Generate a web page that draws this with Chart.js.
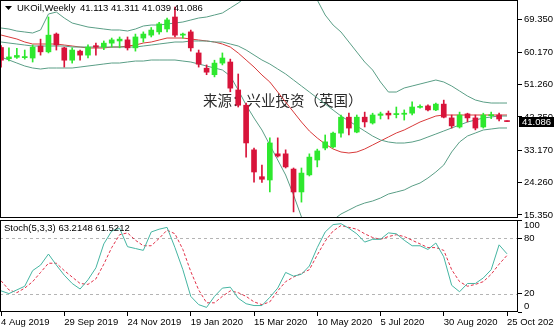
<!DOCTYPE html>
<html><head><meta charset="utf-8">
<script src="https://cdn.jsdelivr.net/npm/chart.js@4"></script>
<style>
html,body{margin:0;padding:0;background:#fff;width:554px;height:329px;overflow:hidden}
canvas{position:absolute;left:0}
#c1{top:0}
#c2{top:211px}
</style></head><body>
<canvas id="c1" width="554" height="218"></canvas>
<canvas id="c2" width="554" height="118"></canvas>
<script>
// ---- data (weekly candles, 4 Aug 2019 .. 25 Oct 2020) ----
const openP=[61.5,58.4,58.8,58.7,58.6,61.9,60.3,65.2,61.4,58.0,60.5,59.4,62.0,61.6,62.7,63.3,63.6,61.4,64.1,64.9,65.8,66.6,69.9,64.9,65.8,60.0,55.8,54.0,57.2,57.5,49.8,45.6,33.3,25.9,25.0,32.2,32.2,28.0,21.7,26.4,30.5,33.8,34.1,37.9,42.3,38.2,42.3,40.7,42.8,43.4,43.0,43.1,43.4,45.0,45.4,44.3,45.9,42.1,39.6,43.2,42.1,39.6,42.7,42.9,41.113];
const highP=[62.0,61.4,61.3,60.8,62.2,63.8,69.9,65.5,61.6,61.4,60.8,62.2,62.7,63.3,64.1,64.4,64.4,65.2,65.8,67.0,68.4,69.6,72.6,65.5,66.3,60.8,56.7,58.0,60.0,58.3,54.2,46.2,33.8,29.1,36.6,36.6,33.3,28.3,28.3,32.2,33.5,37.4,38.2,42.9,43.4,42.9,43.7,43.4,43.7,44.0,45.1,44.3,46.5,45.7,45.7,46.2,47.0,42.9,43.7,43.4,42.9,43.4,43.7,43.4,41.311];
const lowP=[56.1,57.8,58.5,58.3,57.5,59.4,60.0,60.8,56.1,57.2,58.0,58.6,59.4,60.9,61.6,61.4,60.8,60.5,63.0,64.4,65.2,65.8,64.4,64.1,60.5,56.1,54.0,53.4,56.7,49.3,45.1,31.3,24.4,24.3,21.7,31.3,28.3,16.2,18.9,26.1,28.6,33.3,33.8,36.8,37.4,38.0,39.6,40.4,41.8,41.8,42.1,41.5,42.9,44.8,44.0,44.1,42.1,39.3,39.3,41.0,38.8,39.3,41.9,41.3,41.039];
const closeP=[58.0,58.9,59.3,59.0,61.6,60.3,64.9,62.2,58.0,60.8,59.4,61.6,61.6,62.7,63.6,63.8,61.4,64.4,65.2,66.3,68.0,69.1,64.9,65.2,61.4,56.9,54.7,57.2,58.6,50.3,45.6,35.2,27.2,25.2,35.2,31.6,28.6,21.7,26.9,31.3,33.0,35.5,37.9,42.3,39.3,42.3,41.0,42.9,43.2,42.9,43.3,43.4,45.1,45.3,44.3,45.9,42.3,39.9,42.9,42.1,39.3,42.9,43.0,41.8,41.086];
const bbUpper=[66.87,66.59,66.04,65.77,65.49,66.32,70.72,71.27,69.62,68.24,67.69,67.14,66.87,66.59,66.32,66.32,66.04,66.59,67.42,67.69,67.69,67.97,68.24,68.52,69.07,69.62,69.9,70.45,71.0,72.38,73.75,75.4,77.5,79.0,80.5,81.5,82.0,81.5,80.0,77.5,74.58,70.45,67.69,65.77,63.01,60.25,57.5,55.3,51.99,49.23,49.23,50.34,50.89,51.44,51.99,52.54,51.99,50.89,49.51,48.13,47.03,46.48,46.2,46.2,46.2];
const bbMiddle=[63.01,62.73,62.46,62.18,61.91,61.91,61.91,61.91,61.91,61.63,61.63,61.63,61.63,61.63,61.63,61.63,61.63,61.63,61.91,62.18,62.46,62.73,63.01,63.01,63.29,63.29,63.29,63.01,63.01,62.46,61.91,60.81,59.43,58.05,56.95,55.57,54.2,52.54,50.89,49.23,47.58,45.93,44.27,42.62,41.25,39.87,38.49,37.11,36.01,35.46,35.18,35.18,35.46,36.01,36.84,37.66,38.49,39.32,40.14,40.97,41.52,42.07,42.35,42.62,42.62];
const bbLower=[58.88,58.05,57.22,56.4,55.85,55.57,55.85,55.85,55.85,55.85,56.12,56.4,56.67,56.95,57.22,57.22,57.5,57.77,57.77,58.05,58.05,58.05,58.05,57.77,57.5,56.95,56.4,55.85,55.3,53.64,49.79,45.65,42.07,38.77,34.63,30.5,26.37,20.86,14.8,11.22,9.84,11.77,13.97,15.62,16.72,17.83,18.65,19.2,20.03,21.13,21.68,22.24,23.34,24.16,25.54,27.2,29.12,32.71,35.46,37.11,37.94,38.77,39.04,39.32,39.32];
const maRed=[64.94,64.39,63.84,63.01,62.46,62.46,62.46,62.46,62.18,61.91,61.63,61.36,61.36,61.36,61.63,61.63,61.91,62.18,62.73,63.01,63.56,64.11,64.11,64.11,63.84,63.56,63.29,63.01,62.46,61.63,59.98,58.05,56.12,53.92,51.99,49.23,46.48,43.72,40.97,38.49,36.56,34.91,33.53,32.71,32.43,32.71,33.53,34.63,35.74,36.84,37.94,38.77,39.87,40.97,41.8,42.62,42.9,42.9,42.9,42.9,42.9,42.9,42.9,42.9,42.9];
const stochMain=[23,20,24,28,45,51,63,51,40,31,25,35,48,74,88,91,71,69,67,87,90,92,70,46,17,8,5,17,26,27,15,9,7,7,16,26,43,39,41,50,70,87,95,96,91,85,76,79,79,86,85,78,72,72,68,75,60,29,22,31,31,37,46,73,63.2148];
const stochSignal=[34,24,21,26,33,43,53,53,45,38,31,30,36,52,70,84,86,78,72,72,80,89,85,68,44,24,10,10,17,23,21,17,11,8,11,23,33,38,42,46,62,77,88,94,92,90,85,81,79,82,84,82,78,74,70,70,67,46,33,28,30,33,41,52,61.5212];
const priceTicks=[69.35,60.17,51.26,42.35,33.17,24.26,15.35];
const stochTicks=[100,80,20,0];
const stochLevels=[80,20];
const dateTickIdx=[0,8,16,24,32,40,48,56,64];
const dateTickLabels=['4 Aug 2019','29 Sep 2019','24 Nov 2019','19 Jan 2020','15 Mar 2020','10 May 2020','5 Jul 2020','30 Aug 2020','25 Oct 2020'];
const titleSymbol='UKOil,Weekly';
const titleValues='41.113 41.311 41.039 41.086';
const stochTitle='Stoch(5,3,3) 63.2148 61.5212';
const watermark='来源：兴业投资（英国）';

// ---- styling / layout ----
const FONT='"Liberation Sans", Arial, sans-serif';
const UP='#2ee82e', DN='#d8143a', BAND='#5a9e86', MA='#d83a3a';
const X_MIN=-0.13, X_MAX=65.39, Y_MIN=14.523, Y_MAX=74.585;
const N=closeP.length;
const idx=Array.from({length:N},(_,i)=>i);
const cColor=idx.map(i=>closeP[i]>=openP[i]?UP:DN);

function lineDS(arr,color,dash){
  return {type:'line',data:arr.map((v,i)=>({x:i,y:v})),borderColor:color,borderWidth:1,
    borderDash:dash||[],pointRadius:0,tension:0,fill:false,order:3};
}
const framePlugin={id:'frame',afterDraw(chart){
  const a=chart.chartArea,ctx=chart.ctx;ctx.save();ctx.strokeStyle='#000';ctx.lineWidth=1;
  ctx.strokeRect(Math.round(a.left)+0.5,Math.round(a.top)+0.5,Math.round(a.right-a.left)-1,Math.round(a.bottom-a.top)-1);
  ctx.restore();}};

const mainDeco={id:'mainDeco',
  beforeDatasetsDraw(chart){
    const ctx=chart.ctx;ctx.save();
    ctx.font='14.5px "Noto Sans CJK SC", sans-serif';ctx.fillStyle='#2a2a2a';ctx.textBaseline='middle';
    ctx.fillText(watermark,203,100);ctx.restore();},
  afterDraw(chart){
    const ctx=chart.ctx,ys=chart.scales.y,a=chart.chartArea;ctx.save();
    ctx.fillStyle='#000';ctx.beginPath();ctx.moveTo(5,6);ctx.lineTo(12,6);ctx.lineTo(8.5,10);ctx.closePath();ctx.fill();
    ctx.font='9.5px '+FONT;ctx.textBaseline='middle';ctx.fillText(titleSymbol,17,8);ctx.fillText(titleValues,80,8);
    const y=Math.round(ys.getPixelForValue(closeP[N-1]));
    ctx.fillStyle='#000';ctx.fillRect(Math.round(a.right)+1,y-5,36,10);
    ctx.fillStyle='#fff';ctx.textBaseline='middle';ctx.fillText(closeP[N-1].toFixed(3),Math.round(a.right)+4,y);
    ctx.restore();}};

new Chart(document.getElementById('c1'),{
  type:'bar',
  data:{datasets:[
    {type:'bar',data:idx.map(i=>({x:i,y:[lowP[i],highP[i]]})),backgroundColor:cColor,barThickness:1,grouped:false,order:2},
    {type:'bar',data:idx.map(i=>({x:i,y:[openP[i],closeP[i]]})),backgroundColor:cColor,barThickness:5,minBarLength:1,grouped:false,order:1},
    lineDS(bbUpper,BAND),lineDS(bbMiddle,BAND),lineDS(bbLower,BAND),lineDS(maRed,MA)
  ]},
  options:{responsive:false,animation:false,devicePixelRatio:1,events:[],
    layout:{padding:0},
    plugins:{legend:{display:false},tooltip:{enabled:false}},
    scales:{
      x:{type:'linear',min:X_MIN,max:X_MAX,offset:false,display:false},
      y:{position:'right',min:Y_MIN,max:Y_MAX,
        afterBuildTicks:s=>{s.ticks=priceTicks.map(v=>({value:v}));},
        afterFit:s=>{s.width=36;s.paddingTop=0;s.paddingBottom=0;},
        ticks:{autoSkip:false,callback:v=>Number(v).toFixed(3),color:'#000',padding:2,crossAlign:'near',font:{family:FONT,size:9.5}},
        grid:{drawOnChartArea:false,drawTicks:true,tickLength:4,color:'#000'},
        border:{display:false}}
    }},
  plugins:[framePlugin,mainDeco]
});

const stochDeco={id:'stochDeco',
  beforeDatasetsDraw(chart){
    const ctx=chart.ctx,ys=chart.scales.y,a=chart.chartArea;ctx.save();
    ctx.strokeStyle='#b4b4b4';ctx.lineWidth=1;ctx.setLineDash([3,3]);
    stochLevels.forEach(v=>{const y=Math.round(ys.getPixelForValue(v))+0.5;ctx.beginPath();ctx.moveTo(a.left,y);ctx.lineTo(a.right,y);ctx.stroke();});
    ctx.restore();},
  afterDraw(chart){
    const ctx=chart.ctx,ys=chart.scales.y,a=chart.chartArea;ctx.save();
    ctx.fillStyle='#000';ctx.font='9.5px '+FONT;ctx.textBaseline='middle';
    ctx.fillText(stochTitle,4,a.top+8);
    stochTicks.forEach(v=>{let y=ys.getPixelForValue(v);y=Math.min(Math.max(y,a.top+5),a.bottom-6);ctx.fillText(String(v),a.right+6,y);});
    ctx.restore();}};

new Chart(document.getElementById('c2'),{
  type:'line',
  data:{datasets:[
    {data:stochMain.map((v,i)=>({x:i,y:v})),borderColor:'#45b5a2',borderWidth:1,pointRadius:0,tension:0,fill:false},
    {data:stochSignal.map((v,i)=>({x:i,y:v})),borderColor:'#e2324a',borderWidth:1,borderDash:[3,2],pointRadius:0,tension:0,fill:false}
  ]},
  options:{responsive:false,animation:false,devicePixelRatio:1,events:[],
    layout:{padding:{top:9,left:0,right:0,bottom:0}},
    plugins:{legend:{display:false},tooltip:{enabled:false}},
    scales:{
      x:{type:'linear',min:X_MIN,max:X_MAX,offset:false,position:'bottom',
        afterBuildTicks:s=>{s.ticks=dateTickIdx.map(v=>({value:v}));},
        afterFit:s=>{s.height=17;s.paddingLeft=0;s.paddingRight=0;},
        ticks:{autoSkip:false,maxRotation:0,minRotation:0,align:'start',padding:1,color:'#000',font:{family:FONT,size:9.5},
          callback:(v,i)=>dateTickLabels[i]},
        grid:{drawOnChartArea:false,drawTicks:true,tickLength:4,color:'#000'},
        border:{display:false}},
      y:{position:'right',min:0,max:100,
        afterBuildTicks:s=>{s.ticks=stochTicks.map(v=>({value:v}));},
        afterFit:s=>{s.width=36;s.paddingTop=0;s.paddingBottom=0;},
        ticks:{display:false},
        grid:{drawOnChartArea:false,drawTicks:true,tickLength:4,color:'#000'},
        border:{display:false}}
    }},
  plugins:[framePlugin,stochDeco]
});
</script>
</body></html>
